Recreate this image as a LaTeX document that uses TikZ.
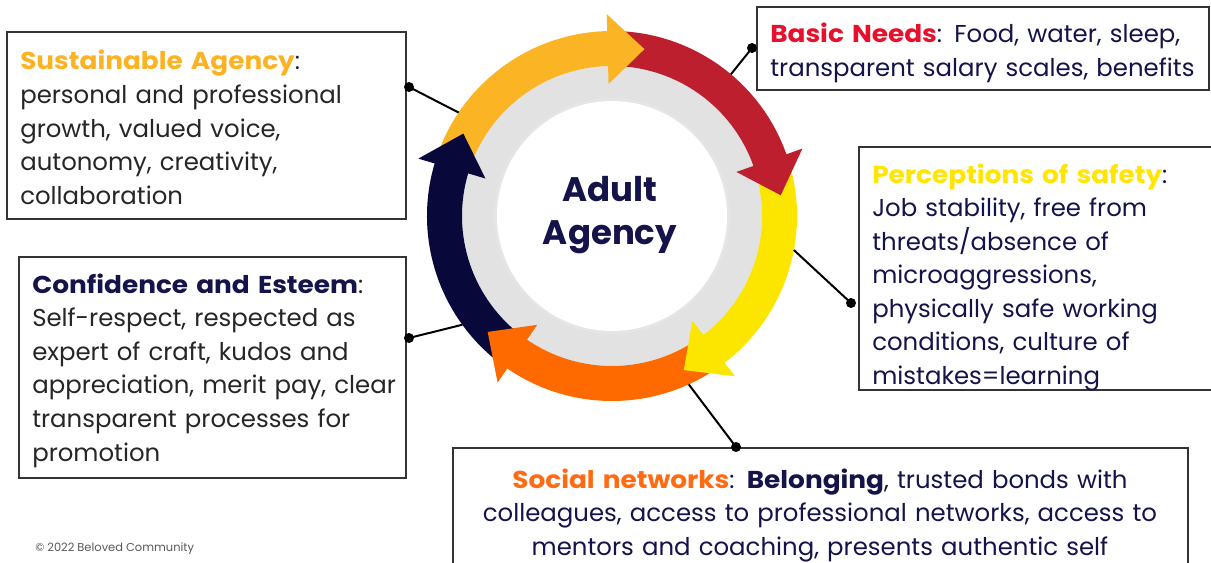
\documentclass[tikz,border=0pt]{standalone}
\usepackage{fontspec}
\setmainfont{Poppins}
\newfontfamily\headfont{Poppins}[FakeStretch=1.08]
\usetikzlibrary{positioning,fit,calc}

\definecolor{ringgold}{HTML}{FBB424}
\definecolor{ringred}{HTML}{BD1F2E}
\definecolor{ringyel}{HTML}{FCE600}
\definecolor{ringorg}{HTML}{FF6A00}
\definecolor{ringnavy}{HTML}{08083A}
\definecolor{ringgray}{HTML}{E2E2E2}
\definecolor{headgold}{HTML}{FBB322}
\definecolor{headred}{HTML}{E8112D}
\definecolor{headyel}{HTML}{FFE500}
\definecolor{headorg}{HTML}{FF6B12}
\definecolor{inknavy}{HTML}{14144A}
\definecolor{inkgray}{HTML}{262626}

\newcommand{\hd}[2]{{\headfont\bfseries\color{#1}#2}}

\begin{document}
\begin{tikzpicture}[
    x=0.75pt, y=0.75pt,
    font=\fontsize{18.3}{25.2}\selectfont,
    frame/.style={draw=black!80, line width=1.1pt, inner sep=0pt},
    blurb/.style={anchor=base west, inner sep=0pt, align=left, text width=#1},
    conn/.style={line width=1.5pt, black},
    dot/.style={black},
  ]
    \clip (0,0) rectangle (1211,562);
    \fill[white] (0,0) rectangle (1211,562);

    % ring in the middle
    \coordinate (hub) at (612,346);
    \begin{scope}[shift={(hub)}]
      \fill[ringgray] (0,0) circle (150);
      \fill[black!10] (0,0) circle (118);
      \fill[white] (0,0) circle (115);
      % bodies first, heads on top
      \foreach \col/\tip in {ringgold/79, ringred/7, ringyel/-65, ringorg/-137, ringnavy/-209} {
        \pgfmathsetmacro{\s}{\tip+84}
        \pgfmathsetmacro{\b}{\tip+12}
        \fill[\col] (\s:185) arc[start angle=\s, end angle=\b, radius=185]
          -- (\b:150) arc[start angle=\b, end angle=\s, radius=150] -- cycle;
      }
      \foreach \col/\tip in {ringgold/79, ringred/7, ringyel/-65, ringorg/-137, ringnavy/-209} {
        \pgfmathsetmacro{\b}{\tip+12.5}
        \fill[\col] (\b:132) -- (\tip:170) -- (\b:202) -- cycle;
      }
      \coordinate (susring)   at (146:185);
      \coordinate (confring)  at (216:185);
      \coordinate (basicring) at (50:185);
      \coordinate (safering)  at (-10.6:185);
      \coordinate (socring)   at (-65.5:185);
    \end{scope}
    \node[font=\fontsize{25.5}{32}\bfseries\selectfont, text=inknavy, align=center]
      (title) at ($(hub)+(-2,1)$) {Adult\\Agency};

    % boxes
    \node[frame, fit={(7,343) (406,530)}]    (susbox)   {};
    \node[frame, fit={(19,84) (406,305)}]    (confbox)  {};
    \node[frame, fit={(757,472) (1209,555)}] (basicbox) {};
    \node[frame, fit={(859,172) (1240,415)}] (safebox)  {};
    \node[frame, fit={(453,-40) (1188,114)}] (socbox)   {};

    \node[blurb=290pt, text=inkgray] (sustxt) at (20,492)
      {\hd{headgold}{Sustainable Agency}:\\
       personal and professional\\growth, valued voice,\\
       autonomy, creativity,\\collaboration};
    \node[blurb=290pt, text=inkgray] (conftxt) at (32,269)
      {\hd{inknavy}{Confidence and Esteem}:\\
       Self-respect, respected as\\expert of craft, kudos and\\
       appreciation, merit pay, clear\\transparent processes for\\promotion};
    \node[blurb=335pt, text=inknavy] (basictxt) at (770,519)
      {\hd{headred}{Basic Needs}: Food, water, sleep,\\
       transparent salary scales, benefits};
    \node[blurb=270pt, text=inknavy] (safetxt) at (872,379)
      {\hd{headyel}{Perceptions of safety}:\\
       Job stability, free from\\threats/absence of\\microaggressions,\\
       physically safe working\\conditions, culture of\\mistakes=learning};
    \node[anchor=base, inner sep=0pt, align=center, text width=540pt, text=inknavy]
      (soctxt) at (820,74)
      {\hd{headorg}{Social networks}: \hd{inknavy}{Belonging}, trusted bonds with\\
       colleagues, access to professional networks, access to\\
       mentors and coaching, presents authentic self};

    % connectors with end dots
    \coordinate (susdot)   at (409,475);
    \coordinate (confdot)  at (409,224);
    \coordinate (basicdot) at (752,514);
    \coordinate (safedot)  at (851,259);
    \coordinate (socdot)   at (736,115);
    \foreach \a/\b in {susring/susdot, confring/confdot, basicring/basicdot,
                       safering/safedot, socring/socdot} {
      \draw[conn] (\a) -- (\b);
      \fill[dot] (\b) circle (5);
    }

    \node[anchor=base west, inner sep=0pt, font=\fontsize{8.6}{10}\selectfont, text=black!65]
      (copy) at (35,11) {\textcopyright{} 2022 Beloved Community};
\end{tikzpicture}
\end{document}
